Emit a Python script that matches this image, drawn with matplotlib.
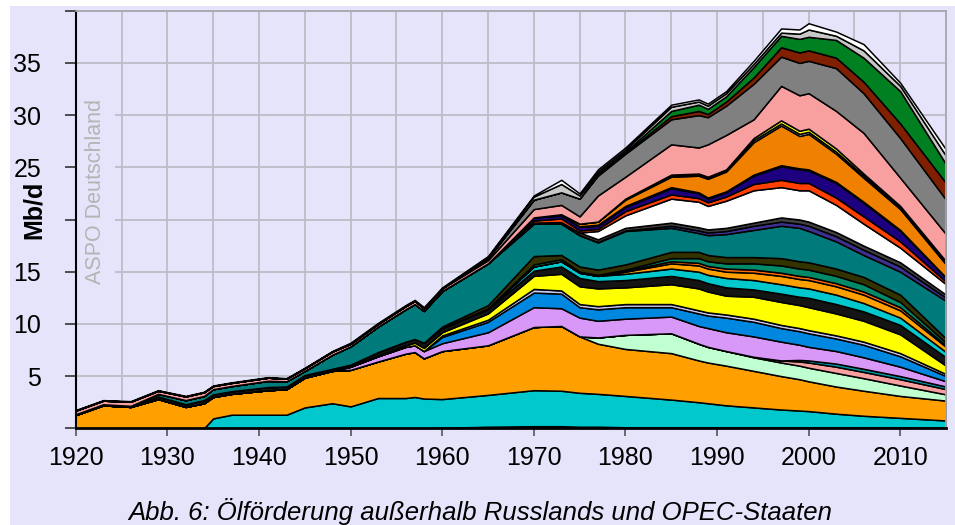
import matplotlib
matplotlib.use("Agg")
import matplotlib.pyplot as plt
from matplotlib.patches import Rectangle
from matplotlib.ticker import MultipleLocator

plt.rcParams['font.family'] = ['Liberation Sans', 'DejaVu Sans']

# Jahre (Stuetzstellen) und Foerderung je Schicht in Mb/d, von unten nach oben
years = [1920, 1923, 1926, 1929, 1932, 1934, 1935, 1937, 1941, 1943, 1945, 1948,
         1950, 1953, 1956, 1957, 1958, 1960, 1965, 1970, 1973, 1975, 1977, 1980,
         1985, 1988, 1989, 1991, 1994, 1997, 1999, 2000, 2003, 2006, 2010, 2015]

basis = [0]*17 + [0.05, 0.15, 0.2, 0.2, 0.15, 0.15, 0.1, 0.1, 0.1, 0.1, 0.1, 0.1,
                  0.1, 0.1, 0.1, 0.1, 0.1, 0.1, 0.05]
cyan = [0]*6 + [0.95, 1.3, 1.3, 1.3, 2.0, 2.4, 2.1, 2.9, 2.9, 3.0, 2.85, 2.75, 3.05,
                3.45, 3.4, 3.25, 3.15, 3.0, 2.65, 2.4, 2.3, 2.1, 1.9, 1.7, 1.6, 1.55,
                1.3, 1.1, 0.9, 0.7]
orange = [1.27, 2.2, 2.05, 2.8, 2.05, 2.4, 2.05, 2.0, 2.35, 2.45, 2.85, 3.1, 3.5,
          3.5, 4.25, 4.3, 3.85, 4.6, 4.75, 6.05, 6.2, 5.4, 4.8, 4.5, 4.45, 4.0, 3.9,
          3.8, 3.5, 3.2, 3.0, 2.85, 2.6, 2.4, 2.1, 1.9]
mint = [0]*22 + [0.6, 1.35, 1.9, 1.6, 1.5, 1.4, 1.3, 1.3, 1.3, 1.3, 1.3, 1.2, 1.0, 0.6]
salmon2 = [0]*28 + [0.05, 0.2, 0.4, 0.5, 0.6, 0.6, 0.6, 0.5]
teal2 = [0]*30 + [0.15, 0.2, 0.3, 0.3, 0.3, 0.25]
violet = [0]*12 + [0.3, 0.5, 0.65, 0.65, 0.7, 0.75, 1.25, 1.9, 1.7, 1.8, 1.6, 1.55,
                   1.6, 1.7, 1.8, 1.8, 1.95, 1.8, 1.45, 1.3, 1.2, 1.1, 0.9, 0.5]
blue = [0]*17 + [0.6, 1.0, 1.4, 1.4, 1.0, 1.1, 1.1, 0.9, 1.2, 1.2, 1.4, 1.4, 1.3,
                 1.3, 1.3, 1.2, 1.2, 1.0, 0.5]
lavender = [0]*17 + [0.15, 0.2, 0.35] + [0.3]*15 + [0.2]
yellow = [0]*13 + [0.1, 0.15, 0.25, 0.3, 0.3, 0.6, 1.25, 1.6, 1.7, 1.7, 1.6, 1.9,
                   2.1, 2.0, 1.8, 2.1, 2.2, 2.2, 2.2, 2.1, 2.0, 1.8, 0.8]
black = [0.08, 0.1, 0.1, 0.25, 0.25, 0.3, 0.25, 0.25, 0.3, 0.25, 0.25, 0.2, 0.2,
         0.3, 0.35, 0.35, 0.5, 0.4, 0.4, 0.5, 0.7, 0.8, 0.7, 0.7, 0.8, 0.8, 0.8,
         0.8, 0.7, 0.8, 0.8, 0.9, 0.9, 0.9, 0.9, 0.8]
cyan2 = [0]*18 + [0.1, 0.4, 0.5, 0.5, 0.5, 0.6, 0.7, 0.8, 0.8, 0.9, 0.9, 0.9, 0.9,
                  0.9, 0.9, 0.8, 0.7, 0.5]
orange2 = [0]*23 + [0.2, 0.5, 0.6, 0.6, 0.6, 0.7, 0.8, 0.8, 0.8, 0.8, 0.8, 0.7, 0.5]
redthin = [0]*23 + [0.1, 0.2, 0.25, 0.25, 0.3, 0.3, 0.3, 0.3, 0.3, 0.3, 0.3, 0.3, 0.15]
greenteal = [0]*19 + [0.2, 0.2, 0.1, 0.1, 0.1, 0.3, 0.45, 0.45, 0.5, 0.6, 0.7, 0.7,
                      0.7, 0.7, 0.7, 0.5, 0.25]
olive = [0]*17 + [0.15, 0.3, 0.8, 0.4, 0.5, 0.5, 0.5, 0.6, 0.6, 0.6, 0.6, 0.6, 0.7,
                  0.7, 0.7, 0.7, 0.7, 0.7, 0.4]
teal = [0]*3 + [0.25, 0.4, 0.4, 0.5, 0.5, 0.6, 0.5, 0.4, 1.35, 1.75, 2.45, 3.1, 3.35,
                3.05, 3.4, 4.0, 3.1, 3.0, 3.0, 2.6, 3.2, 2.3, 1.8, 1.9, 2.2, 2.6, 3.1,
                3.2, 3.0, 2.6, 2.1, 2.2, 3.6]
slate = [0]*22 + [0.05, 0.05, 0.2, 0.25, 0.25, 0.3, 0.4, 0.4, 0.4, 0.5, 0.5, 0.5, 0.5, 0.3]
darkgray = [0]*19 + [0.1, 0.15, 0.25, 0.25, 0.25, 0.3, 0.3, 0.3, 0.3, 0.3, 0.4, 0.4,
                     0.4, 0.4, 0.4, 0.4, 0.3]
white = [0]*22 + [0.8, 1.2, 2.3, 2.45, 2.25, 2.6, 3.1, 2.9, 2.8, 3.0, 2.6, 2.1, 1.4, 1.0]
orangered = [0]*19 + [0.2, 0.35, 0.2, 0.2, 0.4, 0.4, 0.35, 0.35, 0.4, 0.6, 0.7, 0.7,
                      0.7, 0.7, 0.7, 0.6, 0.25]
navy = [0]*19 + [0.3, 0.3, 0.35, 0.3, 0.4, 0.6, 0.45, 0.35, 0.4, 0.8, 1.3, 1.3, 1.2,
                 1.4, 1.3, 1.0, 0.35]
lime = [0]*21 + [0.05, 0.1, 0.1, 0.1, 0.1, 0.1, 0.1, 0.1, 0.1, 0.1, 0.1, 0.1, 0.1, 0.1, 0.05]
orangebig = [0]*20 + [0.1, 0.25, 0.3, 0.6, 1.0, 1.6, 1.8, 1.9, 3.1, 3.8, 3.1, 3.4,
                      2.7, 2.3, 2.0, 1.25]
pale = [0]*23 + [0.05, 0.1, 0.1, 0.1, 0.1, 0.2, 0.2, 0.2, 0.2, 0.2, 0.2, 0.15, 0.15]
yellowthin = [0]*23 + [0.05, 0.1, 0.1, 0.1, 0.1, 0.2, 0.3, 0.3, 0.3, 0.3, 0.2, 0.15, 0.15]
salmon = [0.35, 0.35, 0.4, 0.3, 0.35, 0.35, 0.3, 0.3, 0.3, 0.25, 0.25, 0.3, 0.25,
          0.25, 0.3, 0.3, 0.25, 0.25, 0.3, 0.8, 0.9, 0.7, 2.5, 2.1, 2.9, 2.5, 3.1,
          3.3, 1.8, 3.3, 3.4, 3.4, 3.6, 3.9, 2.7, 2.6]
gray = [0]*18 + [0.2, 0.9, 1.2, 1.7, 1.9, 2.2, 2.4, 3.1, 2.6, 2.8, 3.4, 2.8, 3.1,
                 3.1, 4.1, 3.8, 3.8, 3.3]
darkred = [0]*22 + [0.1, 0.1, 0.3, 0.4, 0.3, 0.4, 0.6, 0.9, 1.0, 1.0, 1.0, 1.1, 1.4, 1.6]
green = [0]*22 + [0.1, 0.1, 0.5, 0.6, 0.5, 0.5, 1.0, 1.1, 1.3, 1.3, 1.7, 2.3, 3.1, 1.8]
lightgray = [0]*18 + [0.1, 0.3, 0.8, 0.3, 0.2, 0.2, 0.4, 0.3, 0.3, 0.3, 0.3, 0.3,
                      0.5, 0.7, 0.4, 0.7, 0.5, 0.8]
rest = [0.05]*12 + [0.1]*8 + [0.4, 0.2, 0.2, 0.2, 0.2, 0.2, 0.2, 0.2, 0.3, 0.4, 0.4,
                              0.6, 0.4, 0.6, 0.3, 0.6]

layers = [basis, cyan, orange, mint, salmon2, teal2, violet, blue, lavender, yellow,
          black, cyan2, orange2, redthin, greenteal, olive, teal, slate, darkgray,
          white, orangered, navy, lime, orangebig, pale, yellowthin, salmon, gray,
          darkred, green, lightgray, rest]
colors = ['#3a3a3a', '#00c8cc', '#ffa000', '#bfffd0', '#f6a0a0', '#0098a8',
          '#d898f8', '#0088e0', '#c8c8f4', '#ffff00', '#141414', '#00c8cc',
          '#ffa000', '#ff6a00', '#008a68', '#333300', '#007a7a', '#3c3090',
          '#404040', '#ffffff', '#ff4000', '#1c0080', '#20ff40', '#f08000',
          '#e8e8ff', '#ffff00', '#f8a0a0', '#808080', '#802000', '#008020',
          '#c8c8c8', '#ffffff']

bg = '#e6e4fa'

fig = plt.figure(figsize=(9.55, 5.25), dpi=100, facecolor='white')
fig.patches.append(Rectangle((10/955, 0), 1, 519/525, transform=fig.transFigure,
                             facecolor=bg, edgecolor='none', zorder=-1))
ax = fig.add_axes([0.0793, 0.1842, 0.9113, 0.7954])
ax.set_facecolor(bg)

ax.stackplot(years, *layers, colors=colors, edgecolor='black', linewidth=1.1)

ax.set_xlim(1920, 2015)
ax.set_ylim(0, 40)
ax.set_xticks(range(1920, 2011, 10))
ax.xaxis.set_minor_locator(MultipleLocator(5))
ax.set_yticks(range(0, 41, 5))
# die 20 wird im Original vom Achsentitel verdeckt
ax.set_yticklabels(['', '5', '10', '15', '', '25', '30', '35', ''])
ax.set_axisbelow(True)
ax.grid(which='both', color='#bdbdc8', linewidth=1.3)
ax.tick_params(axis='y', length=8, width=1.2, color='#333333', pad=17, labelsize=18)
ax.tick_params(axis='x', length=6, width=1.2, color='#555555', pad=7, labelsize=18)
ax.tick_params(axis='x', which='minor', length=0)

for s in ['top', 'right']:
    ax.spines[s].set_color('#a8a8b0')
    ax.spines[s].set_linewidth(1.3)
ax.spines['left'].set_linewidth(1.5)
ax.spines['bottom'].set_linewidth(2)

ax.text(95.5/955, 1 - 191.5/525, 'ASPO Deutschland', transform=fig.transFigure,
        rotation=90, color='#b4b4b4', fontsize=15.5, ha='center', va='center',
        zorder=0.8, bbox=dict(boxstyle='square,pad=0.4', fc=bg, ec='none'))

fig.text(34/955, 1 - 210/525, 'Mb/d', rotation=90, fontweight='bold', fontsize=18,
         ha='center', va='center')

fig.text(480.5/955, 0.009, 'Abb. 6: Ölförderung außerhalb Russlands und OPEC-Staaten',
         style='italic', fontsize=18.5, ha='center', va='baseline')

plt.savefig('out.png', dpi=100, facecolor=fig.get_facecolor())
